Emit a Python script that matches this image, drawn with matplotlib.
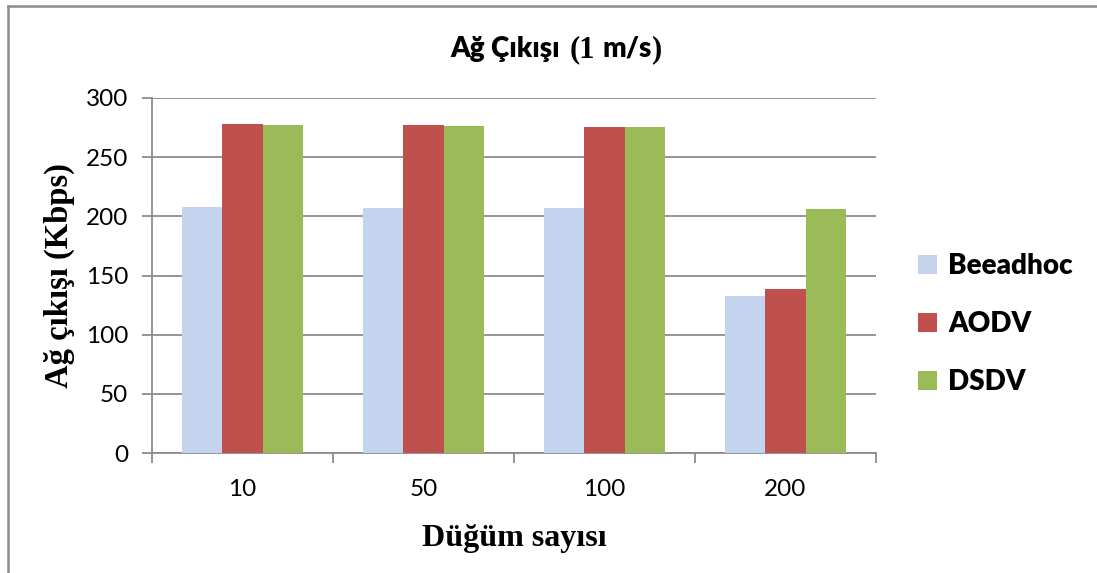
import numpy as np
import matplotlib.pyplot as plt
from matplotlib.lines import Line2D

# data
nodes = ["10", "50", "100", "200"]
beeadhoc = [208, 207, 207, 133]
aodv = [278, 277, 275.5, 139]
dsdv = [277, 276, 275.5, 206]
series = ["Beeadhoc", "AODV", "DSDV"]
colors = ["#C5D4EE", "#C0504D", "#9BBB59"]
yticks = [0, 50, 100, 150, 200, 250, 300]

W, H = 1097, 573
fig = plt.figure(figsize=(W / 100, H / 100), dpi=100)
ax = fig.add_axes([152 / W, (H - 453) / H, 724 / W, 355 / H])

grid_c = "#8C8C8C"
x = np.arange(len(nodes))
bw = 0.224
bars = []
for i, (vals, c) in enumerate(zip([beeadhoc, aodv, dsdv], colors)):
    b = ax.bar(x + (i - 1) * bw, vals, bw, color=c, zorder=3, label=series[i])
    bars.append(b)

ax.set_xlim(-0.5, len(nodes) - 0.5)
ax.set_ylim(0, 300)
ax.set_yticks(yticks)
ax.yaxis.grid(True, color=grid_c, linewidth=1.3, zorder=0)
ax.set_axisbelow(True)
ax.set_xticks(x)
ax.set_xticklabels(nodes)
ax.set_xticks(np.arange(len(nodes) + 1) - 0.5, minor=True)
ax.tick_params(axis="x", which="major", length=0, pad=19)
ax.tick_params(axis="x", which="minor", length=7, width=1.3, color=grid_c, direction="out")
ax.tick_params(axis="y", length=7, width=1.3, color=grid_c, pad=10)
for lab in ax.get_xticklabels() + ax.get_yticklabels():
    lab.set_family("Lato")
    lab.set_fontsize(17.5)
for s in ["top", "right"]:
    ax.spines[s].set_visible(False)
for s in ["left", "bottom"]:
    ax.spines[s].set_color(grid_c)
    ax.spines[s].set_linewidth(1.3)

ax.set_ylabel("Ağ çıkışı (Kbps)", family="Liberation Serif", weight="bold", fontsize=23.5)
ax.yaxis.set_label_coords(-77 / 724, 0.5)
ax.set_xlabel("Düğüm sayısı", family="Liberation Serif", weight="bold", fontsize=23, labelpad=17)

leg = fig.legend(handles=bars, labels=series, loc="center left", bbox_to_anchor=(893 / W, 1 - 324 / H),
                 frameon=False, prop={"family": "Lato", "weight": "heavy", "size": 20},
                 handlelength=0.68, handleheight=0.68, handletextpad=0.4, labelspacing=1.15)

# title built from pieces in two typefaces
pieces = [("Ağ Çıkışı", "Lato", 20, 10), ("(1", "Liberation Serif", 22, 7),
          ("m/s", "Lato", 20, 0), (")", "Liberation Serif", 22, 0)]
r = fig.canvas.get_renderer()
texts = []
xpos = 0
for s, fam, size, gap in pieces:
    t = fig.text(xpos / W, 1 - 57 / H, s, family=fam, fontsize=size, weight="heavy", va="baseline", ha="left")
    bb = t.get_window_extent(r)
    texts.append((t, xpos))
    xpos += bb.width + gap
left = 556 - xpos / 2
for t, xp in texts:
    t.set_x((left + xp) / W)

# outer chart border
fig.add_artist(Line2D([8 / W, 8 / W], [0, 1 - 6 / H], color=grid_c, lw=1.8))
fig.add_artist(Line2D([8 / W, 1], [1 - 6 / H, 1 - 6 / H], color=grid_c, lw=1.8))

fig.savefig("out.png", dpi=100)
